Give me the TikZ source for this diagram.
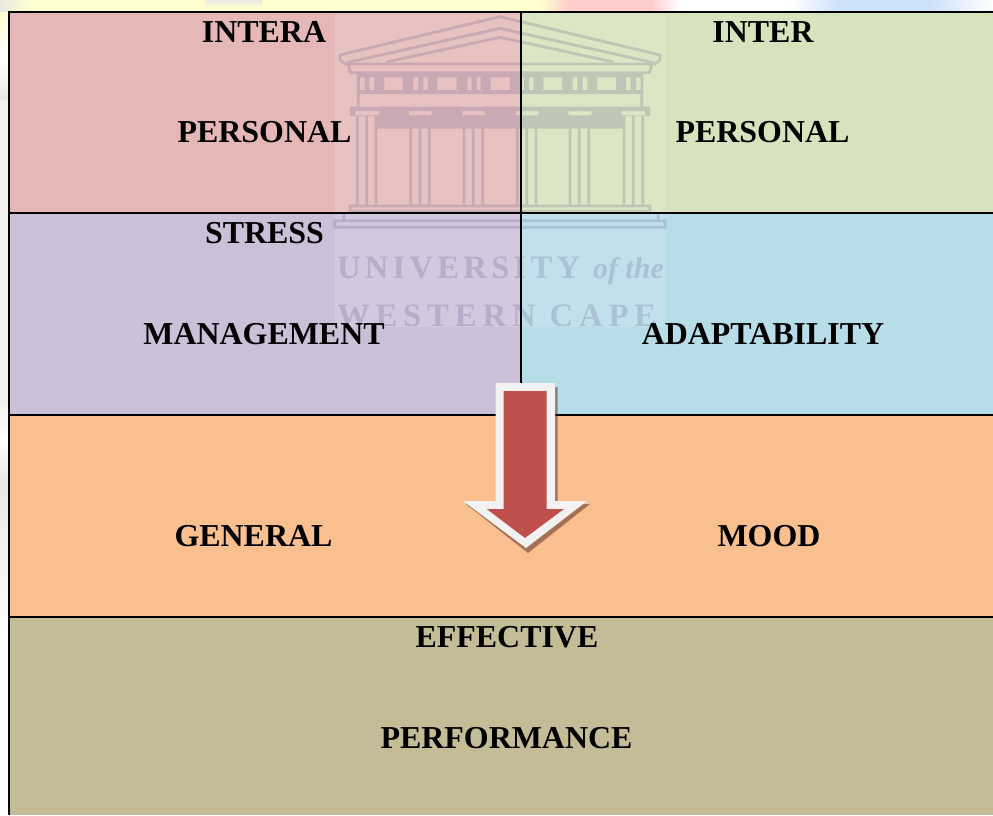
\documentclass[tikz,border=0pt]{standalone}
\usepackage{fontspec}
\setmainfont{Liberation Serif}
\newfontfamily\wmfont[LetterSpace=13]{Liberation Serif}
\newfontfamily\wmfontb[LetterSpace=18]{Liberation Serif}
\definecolor{pinkcell}{HTML}{E5B8B7}
\definecolor{greencell}{HTML}{D6E3BC}
\definecolor{purplecell}{HTML}{CCC0D9}
\definecolor{bluecell}{HTML}{B6DDE8}
\definecolor{orangecell}{HTML}{FABF8F}
\definecolor{olivecell}{HTML}{C4BC96}
\definecolor{arrowred}{HTML}{C0504D}
\definecolor{arrowrim}{HTML}{F2F2F2}
\definecolor{wmark}{RGB}{80,70,125}
\definecolor{paleyellow}{RGB}{255,255,208}
\definecolor{palepink}{RGB}{255,205,205}
\definecolor{paleblue}{RGB}{205,225,250}
\definecolor{palegrey}{RGB}{232,232,226}
\tikzset{
  cell/.style={inner sep=0pt,outer sep=0pt},
  gridline/.style={draw=black,line width=1.5pt},
  thinline/.style={draw=black,line width=1.1pt},
  label/.style={anchor=base,inner sep=0pt,font=\fontsize{23.95}{28}\selectfont\bfseries},
  wmline/.style={draw=wmark,line width=2.1pt},
  wmfill/.style={fill=wmark,even odd rule},
}
\begin{document}
\begin{tikzpicture}[x=0.75pt,y=-0.75pt]
\useasboundingbox (0,0) rectangle (993,815);
% faint page background
\fill[white] (0,0) rectangle (993,815);
\fill[paleyellow] (0,0) rectangle (540,12);
\fill[left color=palegrey,right color=paleyellow] (0,0) rectangle (30,12);
\fill[bottom color=paleyellow,top color=palegrey] (205,0) rectangle (262,8);
\fill[left color=paleyellow,right color=palepink] (540,0) rectangle (570,12);
\fill[palepink] (570,0) rectangle (650,12);
\fill[left color=palepink,right color=white] (650,0) rectangle (680,12);
\fill[left color=white,right color=paleblue] (790,0) rectangle (840,12);
\fill[paleblue] (840,0) rectangle (930,12);
\fill[left color=paleblue,right color=white] (930,0) rectangle (993,12);
\fill[top color=paleyellow,bottom color=white] (0,12) rectangle (9,60);
\fill[top color=white,bottom color=palegrey] (0,60) rectangle (9,100);
\fill[palegrey!60!white] (0,100) rectangle (9,400);
\fill[top color=palegrey!60!white,bottom color=white] (0,400) rectangle (9,440);
\fill[top color=white,bottom color=palegrey] (0,440) rectangle (9,480);
\fill[top color=palegrey,bottom color=white] (0,480) rectangle (9,645);
% cells
\fill[pinkcell] (9,12) rectangle (521,213);
\fill[greencell] (521,12) rectangle (993,213);
\fill[purplecell] (9,213) rectangle (521,415);
\fill[bluecell] (521,213) rectangle (993,415);
\fill[orangecell] (9,415) rectangle (993,617);
\fill[olivecell] (9,617) rectangle (993,815);
% watermark veil
\fill[white,opacity=.14] (335,12) rectangle (665,327);
% watermark building
\begin{scope}[shift={(330,0)},x=0.25pt,y=-0.25pt,transparency group,opacity=.2]
  \draw[wmline,line join=round] (30,180) -- (30,165) -- (510,50) -- (990,165) -- (990,180) -- (975,192) -- (45,192) -- cycle;
  \draw[wmline] (50,188) -- (510,85) -- (970,188);
  \draw[wmline] (170,186) -- (510,112) -- (850,186);
  \draw[wmline] (55,195) -- (62,218) -- (958,218) -- (965,195);
  \fill[wmfill] (80,222) rectangle (940,282)
    (90,232) rectangle (104,270) (118,232) rectangle (133,270) (163,232) rectangle (218,270)
    (250,232) rectangle (265,270) (280,232) rectangle (293,270) (322,232) rectangle (380,270)
    (412,232) rectangle (425,270) (440,232) rectangle (452,270) (482,232) rectangle (540,270)
    (570,232) rectangle (582,270) (597,232) rectangle (610,270) (640,232) rectangle (697,270)
    (728,232) rectangle (742,270) (758,232) rectangle (772,270) (802,232) rectangle (858,270)
    (888,232) rectangle (902,270) (918,232) rectangle (932,270);
  \draw[wmline] (85,282) -- (85,320) (935,282) -- (935,320);
  \fill[wmfill] (60,320) rectangle (960,348) (76,333) rectangle (147,346) (237,333) rectangle (305,346)
    (397,333) rectangle (465,346) (557,333) rectangle (625,346) (715,333) rectangle (785,346) (875,333) rectangle (945,346);
  \fill[wmark] (140,348) rectangle (880,386);
  \foreach \c in {110,270,430,590,748,910}{
    \draw[wmline] (\c-28,348) -- (\c-28,618) (\c,348) -- (\c,618) (\c+28,348) -- (\c+28,618);
  }
  \draw[wmline] (60,618) rectangle (960,634);
  \draw[wmline] (42,636) -- (42,660) (985,636) -- (985,660);
  \draw[wmline] (15,662) rectangle (1005,682);
\end{scope}
\node[cell,anchor=base west,text=wmark,text opacity=.2] (wmuni) at (337,278) {\fontsize{24.5}{28}\selectfont\wmfont\bfseries UNIVERSITY};
\node[cell,anchor=base west,text=wmark,text opacity=.2] (wmof) at (593,278) {\fontsize{22.5}{26}\selectfont\bfseries\itshape of the};
\node[cell,anchor=base west,text=wmark,text opacity=.2] (wmwest) at (337,326) {\fontsize{24.5}{28}\selectfont\wmfontb\bfseries WESTERN CAPE};
% grid
\draw[gridline] (9,815) -- (9,12) -- (993,12);
\draw[thinline] (9,213) -- (993,213) (9,415) -- (993,415) (9,617) -- (993,617) (521,12) -- (521,415);
% arrow
\fill[black!55!arrowred,opacity=.5] (498.5,387) -- (557.5,387) -- (557.5,504) -- (590,504) -- (528,553) -- (466,504) -- (498.5,504) -- cycle;
\fill[arrowrim] (495.7,383) -- (555,383) -- (555,501) -- (587,501) -- (526,548) -- (463,501) -- (495.7,501) -- cycle;
\fill[arrowred] (503.7,391) -- (546.7,391) -- (546.7,509) -- (564,509) -- (525,538) -- (486.7,509) -- (503.7,509) -- cycle;
% labels
\node[label] (intera) at (264,42) {INTERA};
\node[label] (personala) at (264.5,142) {PERSONAL};
\node[label] (inter) at (763,42) {INTER};
\node[label] (personalb) at (762.5,142) {PERSONAL};
\node[label] (stress) at (264.5,243) {STRESS};
\node[label] (management) at (264,344) {MANAGEMENT};
\node[label] (adaptability) at (763,344) {ADAPTABILITY};
\node[label] (general) at (253.5,546) {GENERAL};
\node[label] (mood) at (769,546) {MOOD};
\node[label] (effective) at (507,647) {EFFECTIVE};
\node[label] (performance) at (506.5,748) {PERFORMANCE};
\end{tikzpicture}
\end{document}
